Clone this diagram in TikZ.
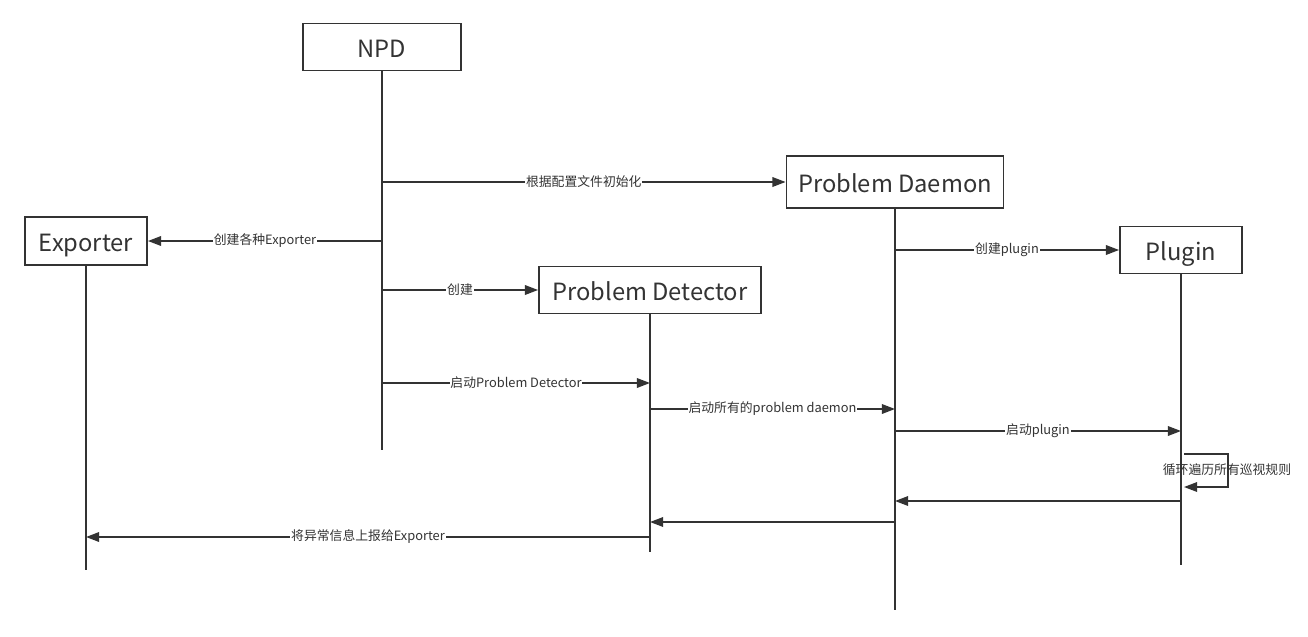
\documentclass[tikz,border=0pt]{standalone}
\usepackage{fontspec}
\setmainfont{Noto Sans CJK SC}
\usetikzlibrary{arrows.meta,calc}
\definecolor{ink}{HTML}{333333}

\begin{document}
\begin{tikzpicture}[x=0.02cm, y=-0.02cm, ink, line width=0.85pt,
		box/.style = {draw=ink, line width=1.1pt, fill=white, text=ink, font=\fontsize{13.5}{15}\selectfont, inner sep=0pt, text height=1.15em, text depth=0pt},
		lbl/.style = {fill=white, text=ink, inner sep=0.5pt, font=\fontsize{7.3}{8}\selectfont},
		msg/.style = {draw=ink, -{Triangle[length=7.5pt, width=5.5pt]}}]
		
		\useasboundingbox (0,0) rectangle (1308,636);
		
		% boxes
		\node[box, minimum width=3.16cm, minimum height=0.94cm] (npd) at (382,47) {NPD};
		\node[box, minimum width=4.34cm, minimum height=1.04cm] (pd) at (895,182) {Problem Daemon};
		\node[box, minimum width=2.44cm, minimum height=0.96cm] (exp) at (86,241) {Exporter};
		\node[box, minimum width=4.44cm, minimum height=0.94cm] (det) at (650,290) {Problem Detector};
		\node[box, minimum width=2.44cm, minimum height=0.94cm] (plg) at (1181,250) {Plugin};
		
		% lifelines
		\coordinate (npdend) at (382,450);
		\coordinate (pdend) at (895,610);
		\coordinate (expend) at (86,570);
		\coordinate (detend) at (650,552);
		\coordinate (plgend) at (1181,565);
		\draw (npd.south) -- (npdend);
		\draw (pd.south) -- (pdend);
		\draw (exp.south) -- (expend);
		\draw (det.south) -- (detend);
		\draw (plg.south) -- (plgend);
		
		% creation
		\draw[msg] (npd |- pd.west) -- node[lbl] {根据配置文件初始化} (pd.west);
		\draw[msg] (npd |- exp.east) -- node[lbl] {创建各种Exporter} (exp.east);
		\draw[msg] (npd |- det.west) -- node[lbl] {创建} (det.west);
		\draw[msg] (pd |- plg.west) -- node[lbl] {创建plugin} (plg.west);
		
		% start up
		\coordinate (a1) at (382,383);
		\coordinate (a2) at (650,383);
		\coordinate (b1) at (650,409);
		\coordinate (b2) at (895,409);
		\coordinate (c1) at (895,431);
		\coordinate (c2) at (1181,431);
		\draw[msg] (a1) -- node[lbl] {启动Problem Detector} (a2);
		\draw[msg] (b1) -- node[lbl] {启动所有的problem daemon} (b2);
		\draw[msg] (c1) -- node[lbl] {启动plugin} (c2);
		
		% loop
		\coordinate (l1) at (1184,454);
		\coordinate (l2) at (1184,487);
		\draw[msg] (l1) -- ++(44,0) |- (l2);
		\node[lbl, fill=none] (loop) at (1227,470) {循环遍历所有巡视规则};
		
		% report back
		\coordinate (d1) at (1181,501);
		\coordinate (d2) at (895,501);
		\coordinate (e1) at (895,522);
		\coordinate (e2) at (650,522);
		\coordinate (f1) at (650,537);
		\coordinate (f2) at (86,537);
		\draw[msg] (d1) -- (d2);
		\draw[msg] (e1) -- (e2);
		\draw[msg] (f1) -- node[lbl] {将异常信息上报给Exporter} (f2);
		
	\end{tikzpicture}
\end{document}
